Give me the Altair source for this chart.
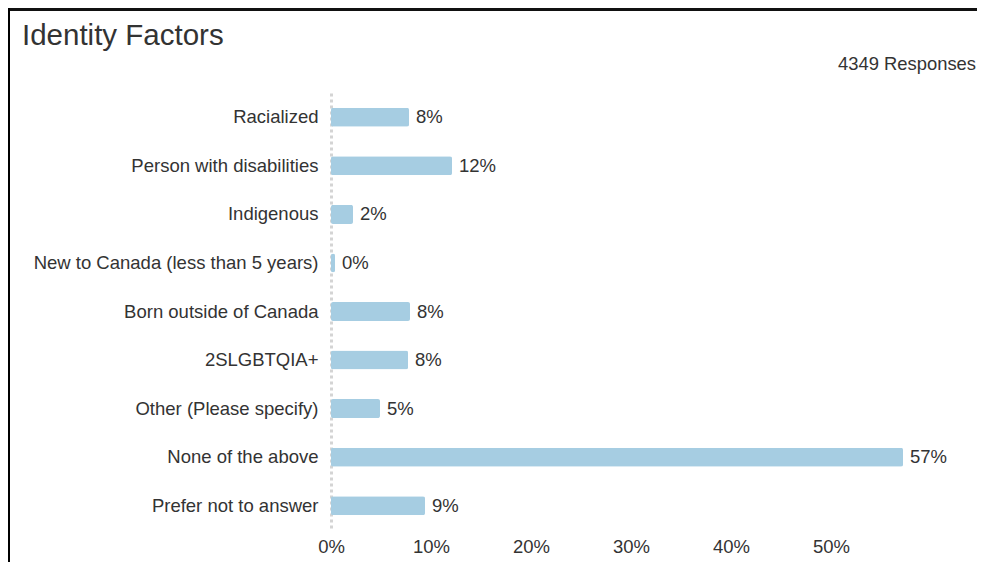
import altair as alt
import pandas as pd

categories = [
    "Racialized",
    "Person with disabilities",
    "Indigenous",
    "New to Canada (less than 5 years)",
    "Born outside of Canada",
    "2SLGBTQIA+",
    "Other (Please specify)",
    "None of the above",
    "Prefer not to answer",
]
shares = [0.078, 0.121, 0.022, 0.004, 0.079, 0.077, 0.049, 0.572, 0.094]
x_ticks = [0, 0.1, 0.2, 0.3, 0.4, 0.5]
title_text = ["Identity Factors"]
responses_text = ["4349 Responses"]

FONT = "Liberation Sans"
TXT = "#333333"
BAR = "#a6cde2"

df = pd.DataFrame({"category": categories, "share": shares})
one = pd.DataFrame({"t": title_text, "r": responses_text})

W, H = 600, 437

y_enc = alt.Y(
    "category:N",
    sort=categories,
    scale=alt.Scale(paddingInner=0, paddingOuter=0),
    axis=alt.Axis(
        title=None, ticks=False, domain=True, domainDash=[3, 3],
        domainColor="#d4d4d4", domainWidth=3, labelPadding=13,
        labelFontSize=18.5, labelColor=TXT, labelFont=FONT, labelLimit=400,
    ),
)
x_enc = alt.X(
    "share:Q",
    scale=alt.Scale(domain=[0, 0.6], nice=False),
    axis=alt.Axis(
        title=None, values=x_ticks, format=".0%", grid=False, ticks=False,
        domain=False, labelPadding=7, labelFontSize=18.5, labelColor=TXT,
        labelFont=FONT, labelFlush=False,
    ),
)

bars = alt.Chart(df).mark_bar(size=19, color=BAR, cornerRadius=2).encode(x=x_enc, y=y_enc)
labels = alt.Chart(df).mark_text(
    align="left", baseline="middle", dx=7, fontSize=18.5, font=FONT, color=TXT
).encode(x="share:Q", y=alt.Y("category:N", sort=categories), text=alt.Text("share:Q", format=".0%"))

title = alt.Chart(one).mark_text(
    align="left", baseline="middle", fontSize=29.5, font=FONT, color=TXT
).encode(x=alt.value(-309), y=alt.value(-57), text="t:N")

resp = alt.Chart(one).mark_text(
    align="right", baseline="middle", fontSize=18.4, font=FONT, color=TXT
).encode(x=alt.value(645), y=alt.value(-29), text="r:N")

top_line = alt.Chart(one).mark_rule(color="#111111", strokeWidth=3).encode(
    x=alt.value(-325), x2=alt.value(650), y=alt.value(-83.5)
)
left_line = alt.Chart(one).mark_rule(color="#000000", strokeWidth=3).encode(
    x=alt.value(-322.5), y=alt.value(-85), y2=alt.value(480)
)

chart = alt.layer(bars, labels, title, resp, top_line, left_line).properties(
    width=W, height=H,
    autosize=alt.AutoSizeParams(type="none"),
    padding={"left": 323, "top": 85, "right": 46, "bottom": 32},
    background="white",
).configure_view(strokeWidth=0, stroke=None)

chart.save("out.html", embed_options={"renderer": "svg", "actions": False})
